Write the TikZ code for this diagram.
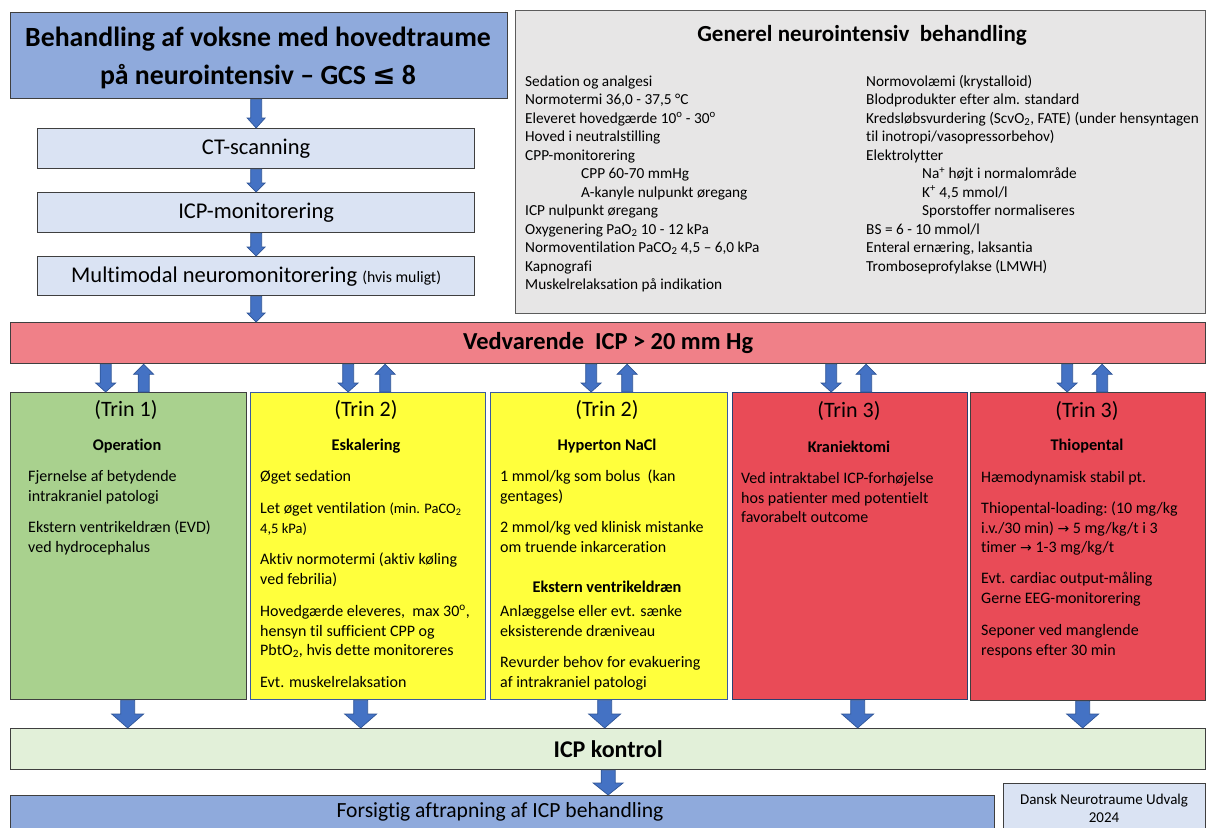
\documentclass[tikz,border=0pt]{standalone}
\usepackage{fontspec}
\setmainfont{Carlito}[Ligatures=NoCommon]
\newfontfamily\symfont{DejaVu Sans}
\usetikzlibrary{calc}

\definecolor{titleblue}{HTML}{8FAADC}
\definecolor{paleblue}{HTML}{DAE3F3}
\definecolor{panelgray}{HTML}{E7E6E6}
\definecolor{barred}{HTML}{F08088}
\definecolor{stepgreen}{HTML}{A9D18E}
\definecolor{stepyellow}{HTML}{FFFF3C}
\definecolor{stepred}{HTML}{E94B57}
\definecolor{palegreen}{HTML}{E2F0D9}
\definecolor{arrowblue}{HTML}{4472C4}
\definecolor{arrowedge}{HTML}{2F5597}
\definecolor{edgegray}{HTML}{3F3F3F}
\definecolor{edgeblue}{HTML}{3A5BA0}

\newcommand\tstrut{\rule{0pt}{14pt}}
\newcommand\gstrut{\rule{0pt}{13pt}}
\newcommand\ind{\hspace*{56pt}}

% block arrow: start point, tip point, half shaft, half head, head length
\newcommand\arrowdn[5]{\filldraw[blockarrow] let \p1=#1, \p2=#2 in
  (\x1-#3,\y1) -- (\x1+#3,\y1) -- (\x1+#3,\y2+#5) -- (\x1+#4,\y2+#5) --
  (\x1,\y2) -- (\x1-#4,\y2+#5) -- (\x1-#3,\y2+#5) -- cycle;}
\newcommand\arrowup[5]{\filldraw[blockarrow] let \p1=#1, \p2=#2 in
  (\x1-#3,\y1) -- (\x1+#3,\y1) -- (\x1+#3,\y2-#5) -- (\x1+#4,\y2-#5) --
  (\x1,\y2) -- (\x1-#4,\y2-#5) -- (\x1-#3,\y2-#5) -- cycle;}

\tikzset{
  box/.style={draw=edgegray, line width=1.3pt, inner sep=0pt, anchor=north west},
  blockarrow/.style={fill=arrowblue, draw=arrowedge, line width=0.7pt},
  body/.style={anchor=north west, inner sep=0pt, align=left,
    font=\fontsize{16}{19.3}\selectfont},
  gen/.style={anchor=north west, inner sep=0pt, align=left,
    font=\fontsize{15.3}{18.5}\selectfont},
  trin/.style={inner sep=0pt, font=\fontsize{22}{26}\selectfont},
  subhead/.style={inner sep=0pt, font=\bfseries\fontsize{16.3}{19}\selectfont},
}

\begin{document}
\begin{tikzpicture}[x=1pt,y=-1pt]
\useasboundingbox (0,0) rectangle (1207,827);
\clip (0,0) rectangle (1207,827);

% ---------- left column: title and monitoring steps ----------
\node[box, fill=titleblue, minimum width=497pt, minimum height=86pt] (title) at (10,12) {};
\node[inner sep=0pt, align=center, font=\bfseries\fontsize{27.8}{38}\selectfont] (titletext) at (258,58)
  {Behandling af voksne med hovedtraume\\på neurointensiv – GCS {\symfont ≤} 8};

\node[box, fill=paleblue, minimum width=437pt, minimum height=40pt,
  font=\fontsize{22.5}{26}\selectfont] (ct) at (37,128) {CT-scanning};
\node[box, fill=paleblue, minimum width=437pt, minimum height=40pt,
  font=\fontsize{22.5}{26}\selectfont] (icpmon) at (37,192) {ICP-monitorering};
\node[box, fill=paleblue, minimum width=437pt, minimum height=39pt,
  font=\fontsize{22.5}{26}\selectfont] (multi) at (37,256)
  {Multimodal neuromonitorering {\fontsize{15.8}{18}\selectfont(hvis muligt)}};

% ---------- general treatment panel ----------
\node[box, draw=edgegray!85, fill=panelgray, minimum width=690pt, minimum height=303pt] (general) at (515,10) {};
\node[inner sep=0pt, font=\bfseries\fontsize{23}{26}\selectfont] (genhead) at (862,35)
  {Generel neurointensiv\ \ behandling};
\node[gen] (genL) at (525,73) {\gstrut Sedation og analgesi\\
  Normotermi 36,0 - 37,5 °C\\
  Eleveret hovedgærde 10\textsuperscript{o} - 30\textsuperscript{o}\\
  Hoved i neutralstilling\\
  CPP-monitorering\\
  \ind CPP 60-70 mmHg\\
  \ind A-kanyle nulpunkt øregang\\
  ICP nulpunkt øregang\\
  Oxygenering PaO\textsubscript{2} 10 - 12 kPa\\
  Normoventilation PaCO\textsubscript{2} 4,5 – 6,0 kPa\\
  Kapnografi\\
  Muskelrelaksation på indikation};
\node[gen] (genR) at (866,73) {\gstrut Normovolæmi (krystalloid)\\
  Blodprodukter efter alm. standard\\
  Kredsløbsvurdering (ScvO\textsubscript{2}, FATE) (under hensyntagen\\
  til inotropi/vasopressorbehov)\\
  Elektrolytter\\
  \ind Na\textsuperscript{+} højt i normalområde\\
  \ind K\textsuperscript{+} 4,5 mmol/l\\
  \ind Sporstoffer normaliseres\\
  BS = 6 - 10 mmol/l\\
  Enteral ernæring, laksantia\\
  Tromboseprofylakse (LMWH)};

% ---------- raised ICP bar ----------
\node[box, fill=barred, minimum width=1195pt, minimum height=41pt,
  font=\bfseries\fontsize{24.4}{28}\selectfont] (bar) at (10,322)
  {Vedvarende\ \ ICP > 20 mm Hg};

% ---------- treatment steps ----------
\node[box, fill=stepgreen, minimum width=236pt, minimum height=307pt] (c1) at (10,392) {};
\node[box, draw=edgeblue, fill=stepyellow, minimum width=235pt, minimum height=307pt] (c2) at (250,392) {};
\node[box, draw=edgeblue, fill=stepyellow, minimum width=237pt, minimum height=307pt] (c3) at (490,392) {};
\node[box, draw=edgeblue!70!black, fill=stepred, minimum width=235pt, minimum height=307pt] (c4) at (732,392) {};
\node[box, fill=stepred, minimum width=235pt, minimum height=308pt] (c5) at (970,392) {};

% step 1
\node[trin] (t1) at (126,410) {(Trin 1)};
\node[subhead] (h1) at (127,446) {Operation};
\node[body] (c1a) at (28,467.5) {\tstrut Fjernelse\ af betydende\\intrakraniel patologi};
\node[body] (c1b) at (28,518.5) {\tstrut Ekstern ventrikeldræn (EVD)\\ved hydrocephalus};

% step 2, escalation
\node[trin] (t2) at (366,410) {(Trin 2)};
\node[subhead] (h2) at (366,446) {Eskalering};
\node[body] (c2a) at (260,467.5) {\tstrut Øget sedation};
\node[body] (c2b) at (260,499.5) {\tstrut Let øget ventilation {\fontsize{14.5}{19.3}\selectfont(min. PaCO\textsubscript{2}}\\
  {\fontsize{14.5}{19.3}\selectfont 4,5 kPa)}};
\node[body] (c2c) at (260,550.5) {\tstrut Aktiv normotermi (aktiv køling\\ved febrilia)};
\node[body] (c2d) at (260,602.5) {\tstrut Hovedgærde eleveres,\ \ max 30\textsuperscript{o},\\
  hensyn\ til sufficient\ CPP og\\PbtO\textsubscript{2}, hvis dette monitoreres};
\node[body] (c2e) at (260,673.5) {\tstrut Evt. muskelrelaksation};

% step 2, hypertonic saline
\node[trin] (t3) at (607,410) {(Trin 2)};
\node[subhead] (h3) at (607,446) {Hyperton NaCl};
\node[body] (c3a) at (500,467.5) {\tstrut 1 mmol/kg\ som bolus\ \ (kan\\gentages)};
\node[body] (c3b) at (500,518.5) {\tstrut 2 mmol/kg\ ved klinisk\ mistanke\\om truende inkarceration};
\node[subhead] (h3b) at (607,587) {Ekstern ventrikeldræn};
\node[body] (c3c) at (500,602.5) {\tstrut Anlæggelse eller evt. sænke\\eksisterende\ dræniveau};
\node[body] (c3d) at (500,653.5) {\tstrut Revurder behov for evakuering\\af\ intrakraniel patologi};

% step 3, craniectomy
\node[trin] (t4) at (849,411) {(Trin 3)};
\node[subhead] (h4) at (849,447) {Kraniektomi};
\node[body] (c4a) at (741,469.5) {\tstrut Ved intraktabel ICP-forhøjelse\\hos patienter med potentielt\\favorabelt outcome};

% step 3, thiopental
\node[trin] (t5) at (1087,411) {(Trin 3)};
\node[subhead] (h5) at (1087,446) {Thiopental};
\node[body] (c5a) at (981,468.5) {\tstrut Hæmodynamisk\ stabil pt.};
\node[body] (c5b) at (981,499.5) {\tstrut Thiopental-loading:\ (10 mg/kg\\
  i.v./30 min) {\symfont\fontsize{14}{19.3}\selectfont →} 5 mg/kg/t i 3\\
  timer {\symfont\fontsize{14}{19.3}\selectfont →} 1-3 mg/kg/t};
\node[body] (c5c) at (981,569.5) {\tstrut Evt. cardiac output-måling\\Gerne EEG-monitorering};
\node[body] (c5d) at (981,621.5) {\tstrut Seponer ved manglende\\respons efter 30 min};

% ---------- outcome ----------
\node[box, fill=palegreen, minimum width=1195pt, minimum height=41pt,
  font=\bfseries\fontsize{24}{28}\selectfont] (icp) at (10,728) {ICP kontrol};
\node[box, fill=titleblue, minimum width=984pt, minimum height=50pt] (taper) at (10,795) {};
\node[inner sep=0pt, font=\fontsize{21.6}{25}\selectfont] (tapertext) at (500,812)
  {Forsigtig aftrapning af ICP behandling};
\node[box, fill=paleblue, line width=1pt, minimum width=202pt, minimum height=55pt] (credit) at (1003,783) {};
\node[inner sep=0pt, align=center, font=\fontsize{15}{18}\selectfont] (credittext) at (1104,808)
  {Dansk Neurotraume Udvalg\\2024};

% ---------- connectors ----------
\arrowdn{(title.south -| ct.north)}{(ct.north)}{5.5pt}{9pt}{10pt}
\arrowdn{(ct.south)}{(icpmon.north)}{5.5pt}{9pt}{9pt}
\arrowdn{(icpmon.south)}{(multi.north)}{5.5pt}{9pt}{9pt}
\arrowdn{(multi.south)}{(bar.north)}{5.5pt}{9pt}{9pt}

\arrowdn{([xshift=-23pt]bar.south -| c1.north)}{(c1.north)}{5.5pt}{10pt}{9pt}
\arrowup{([xshift=15pt]c1.north)}{(bar.south)}{5.5pt}{10pt}{10pt}
\arrowdn{([xshift=-20pt]bar.south -| c2.north)}{(c2.north)}{5.5pt}{10pt}{9pt}
\arrowup{([xshift=17pt]c2.north)}{(bar.south)}{5.5pt}{10pt}{10pt}
\arrowdn{([xshift=-18pt]bar.south -| c3.north)}{(c3.north)}{5.5pt}{10pt}{9pt}
\arrowup{([xshift=18pt]c3.north)}{(bar.south)}{5.5pt}{10pt}{10pt}
\arrowdn{([xshift=-19pt]bar.south -| c4.north)}{(c4.north)}{5.5pt}{10pt}{9pt}
\arrowup{([xshift=16pt]c4.north)}{(bar.south)}{5.5pt}{10pt}{10pt}
\arrowdn{([xshift=-21pt]bar.south -| c5.north)}{(c5.north)}{5.5pt}{10pt}{9pt}
\arrowup{([xshift=14pt]c5.north)}{(bar.south)}{5.5pt}{10pt}{10pt}

\arrowdn{([xshift=-1pt]c1.south)}{(icp.north)}{7pt}{16pt}{14pt}
\arrowdn{([xshift=-7.5pt]c2.south)}{(icp.north)}{7pt}{16pt}{14pt}
\arrowdn{([xshift=-4.5pt]c3.south)}{(icp.north)}{7pt}{16pt}{14pt}
\arrowdn{([xshift=7.5pt]c4.south)}{(icp.north)}{7pt}{16pt}{14pt}
\arrowdn{([xshift=-5.5pt]c5.south)}{(icp.north)}{7pt}{16pt}{14pt}

\arrowdn{(icp.south)}{(taper.north)}{7pt}{15pt}{12pt}
\end{tikzpicture}
\end{document}
